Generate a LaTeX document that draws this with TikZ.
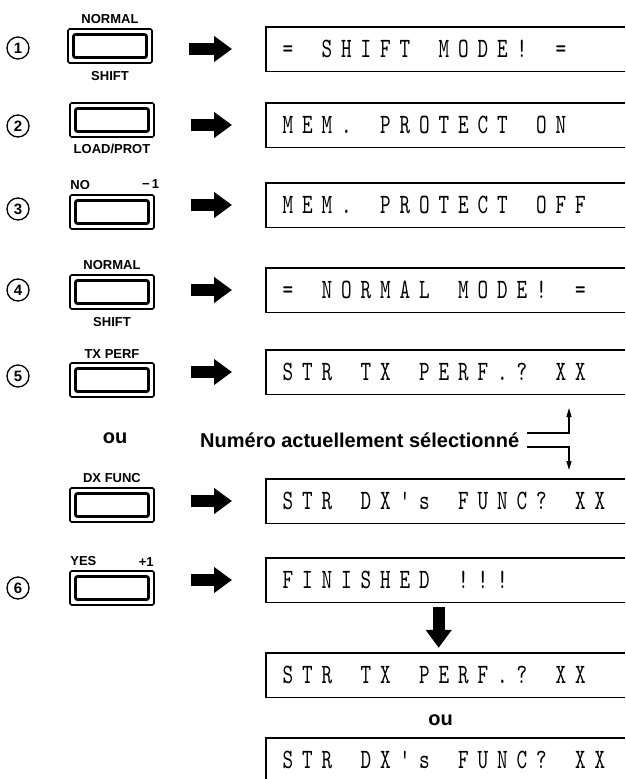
\documentclass[tikz,border=0pt]{standalone}
\usepackage{fontspec}
\setmainfont{Liberation Sans}
\newfontfamily\lcdfont{lmmono10-regular}[Extension=.otf,FakeStretch=0.72]
\usepackage{tikz}
\usetikzlibrary{
	arrows.meta,
	calc,
	positioning
}

% one character per cell, ~ stands for a blank cell
\makeatletter
\newcommand{\lcd}[1]{\lcd@step#1\lcd@end}
\def\lcd@end{\lcd@end}
\def\lcd@step#1{\ifx#1\lcd@end\else\makebox[19.5pt]{\ifx#1~\else#1\fi}\expandafter\lcd@step\fi}
\makeatother

\newcommand{\lcdtype}{\lcdfont\fontsize{28}{28}\selectfont}

\tikzset{
	keycap/.style={draw, line width=1.6pt, rounded corners=1.5pt,
		minimum width=84pt, minimum height=34pt, inner sep=0pt,
		path picture={\draw[line width=2.8pt, rounded corners=2pt]
			([shift={(5.5pt,-5.5pt)}]path picture bounding box.north west) rectangle
			([shift={(-5.5pt,5.5pt)}]path picture bounding box.south east);}},
	keylabel/.style={font=\bfseries\fontsize{13}{13}\selectfont, inner sep=1pt},
	screen/.style={anchor=west, minimum height=44pt, inner xsep=12pt, inner ysep=0pt,
		text width=335pt, align=left, font=\lcdtype},
	screenline/.style={line width=1.4pt},
	numdisc/.style={circle, draw, line width=1.3pt, minimum size=22pt, inner sep=0pt,
		font=\bfseries\fontsize{15}{15}\selectfont},
	fatarrow/.style={line width=12pt, -{Triangle[length=18pt,width=25pt]}},
	thinarrow/.style={line width=1.2pt, -{Triangle[length=9pt,width=5pt]}},
	bigtext/.style={font=\bfseries\fontsize{20}{20}\selectfont, inner sep=0pt}
}

\begin{document}
\begin{tikzpicture}[x=1pt, y=-1pt]
	\useasboundingbox (0,0) rectangle (625,779);

	% touches
	\node[keycap] (b1) at (110,46) {};
	\node[keycap] (b2) at (112,120) {};
	\node[keycap] (b3) at (112,212) {};
	\node[keycap] (b4) at (112,292) {};
	\node[keycap] (b5) at (112,380) {};
	\node[keycap] (b6) at (112,505) {};
	\node[keycap] (b7) at (112,588) {};

	% inscriptions des touches
	\node[keylabel, above=3pt of b1] (b1up) {NORMAL};
	\node[keylabel, below=6pt of b1] (b1dn) {SHIFT};
	\node[keylabel, below=5pt of b2] (b2dn) {LOAD/PROT};
	\node[keylabel, anchor=south west] (b3l) at ([yshift=3pt]b3.north west) {NO};
	\node[keylabel, anchor=south west] (b3r) at ([xshift=-14pt,yshift=5pt]b3.north east) {−\,1};
	\node[keylabel, above=3pt of b4] (b4up) {NORMAL};
	\node[keylabel, below=6pt of b4] (b4dn) {SHIFT};
	\node[keylabel, above=3pt of b5] (b5up) {TX PERF};
	\node[keylabel, above=3pt of b6] (b6up) {DX FUNC};
	\node[keylabel, anchor=south west] (b7l) at ([yshift=3pt]b7.north west) {YES};
	\node[keylabel, anchor=south east] (b7r) at ([yshift=3pt]b7.north east) {+1};

	% numeros
	\node[numdisc] (n1) at (18,48) {1};
	\node[numdisc] (n2) at (18,126) {2};
	\node[numdisc] (n3) at (18,209) {3};
	\node[numdisc] (n4) at (18,290) {4};
	\node[numdisc] (n5) at (18,376) {5};
	\node[numdisc] (n6) at (18,588) {6};

	% afficheurs
	\node[screen] (d1) at (266,49) {\lcd{=~SHIFT~MODE!~=}};
	\node[screen] (d2) at (266,125) {\lcd{MEM.~PROTECT~ON}};
	\node[screen] (d3) at (266,205) {\lcd{MEM.~PROTECT~OFF}};
	\node[screen] (d4) at (266,290) {\lcd{=~NORMAL~MODE!~=}};
	\node[screen] (d5) at (266,372) {\lcd{STR~TX~PERF.?~XX}};
	\node[screen] (d6) at (266,501) {\lcd{STR~DX's~FUNC?~XX}};
	\node[screen] (d7) at (266,580) {\lcd{FINISHED~!!!}};
	\node[screen] (d8) at (266,675) {\lcd{STR~TX~PERF.?~XX}};
	\node[screen] (d9) at (266,760) {\lcd{STR~DX's~FUNC?~XX}};
	\foreach \d in {d1,d2,d3,d4,d5,d6,d7,d8,d9}
		\draw[screenline] (\d.north east) -- (\d.north west) -- (\d.south west) -- (\d.south east);

	% fleches
	\foreach \k/\d in {b1/d1,b2/d2,b3/d3,b4/d4,b5/d5,b6/d6,b7/d7}
		\draw[fatarrow] ([xshift=36pt]\k.east |- \d.west) -- ([xshift=-34pt]\d.west);
	\draw[fatarrow] ([xshift=-7pt,yshift=-5pt]d7.south) -- ([xshift=-7pt,yshift=5pt]d8.north);

	% ou
	\node[bigtext] (ou1) at (115,438) {ou};
	\node[bigtext] (ou2) at ($(d8.south)!0.5!(d9.north)+(-5,3)$) {ou};

	% numero selectionne
	\node[bigtext, anchor=west] (num) at (200,440) {Numéro actuellement sélectionné};
	\coordinate (upTip) at (569,408);
	\coordinate (downTip) at (569,470);
	\draw[thinarrow] ([xshift=8pt,yshift=7pt]num.east) -| (upTip);
	\draw[thinarrow] ([xshift=8pt,yshift=-7pt]num.east) -| (downTip);
\end{tikzpicture}
\end{document}
